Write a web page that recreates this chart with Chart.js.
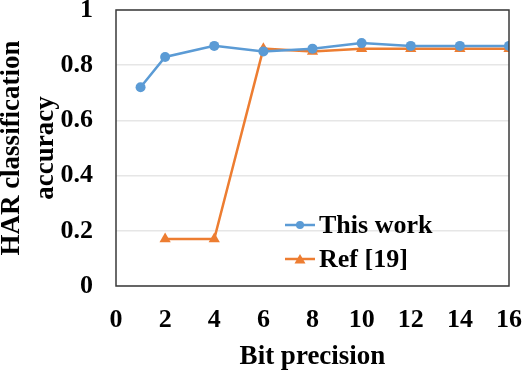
<!DOCTYPE html>
<html>
<head>
<meta charset="utf-8">
<script src="https://cdn.jsdelivr.net/npm/chart.js@4.4.1/dist/chart.umd.min.js"></script>
<style>
    html, body { margin: 0; padding: 0; background: #fff; }
    #wrap { width: 530px; height: 370px; }
</style>
</head>
<body>
<div id="wrap"><canvas id="accChart" width="530" height="370"></canvas></div>
<script>
// values
const thisWorkBits = [1, 2, 4, 6, 8, 10, 12, 14, 16];
const thisWorkAcc = [0.72, 0.83, 0.87, 0.85, 0.86, 0.88, 0.87, 0.87, 0.87];
const refBits = [2, 4, 6, 8, 10, 12, 14, 16];
const refAcc = [0.17, 0.17, 0.86, 0.85, 0.86, 0.86, 0.86, 0.86];
const seriesNames = ['This work', 'Ref [19]'];

const blue = '#5B9BD5';
const orange = '#ED7D31';
const fontFamily = '"Liberation Serif", "Times New Roman", serif';

const toPoints = (xs, ys) => xs.map((x, i) => ({ x: x, y: ys[i] }));

// keep the plot area where the layout padding puts it
function fixScale(scale, key, size) {
    scale[key] = size;
    scale.paddingTop = 0;
    scale.paddingBottom = 0;
    scale.paddingLeft = 0;
    scale.paddingRight = 0;
}

// frame around the plot area
const frameBox = {
    id: 'frameBox',
    afterDatasetsDraw(chart) {
        const { ctx, chartArea: a } = chart;
        ctx.save();
        ctx.strokeStyle = '#3a3a3a';
        ctx.lineWidth = 1.5;
        ctx.strokeRect(a.left, a.top, a.right - a.left, a.bottom - a.top);
        ctx.restore();
    }
};

// legend drawn inside the plot, lower right
const innerLegend = {
    id: 'innerLegend',
    afterDraw(chart) {
        const { ctx } = chart;
        ctx.save();
        ctx.font = 'bold 26px ' + fontFamily;
        ctx.textBaseline = 'middle';
        chart.data.datasets.forEach((ds, i) => {
            const y = 225 + i * 34;
            ctx.strokeStyle = ds.borderColor;
            ctx.lineWidth = 2.5;
            ctx.beginPath();
            ctx.moveTo(285, y);
            ctx.lineTo(315, y);
            ctx.stroke();
            ctx.fillStyle = ds.borderColor;
            ctx.beginPath();
            if (ds.pointStyle === 'triangle') {
                ctx.moveTo(300, y - 5);
                ctx.lineTo(305.5, y + 4.5);
                ctx.lineTo(294.5, y + 4.5);
                ctx.closePath();
            } else {
                ctx.arc(300, y, 4, 0, Math.PI * 2);
            }
            ctx.fill();
            ctx.fillStyle = '#000';
            ctx.fillText(ds.label, 319, y + 1);
        });
        ctx.restore();
    }
};

new Chart(document.getElementById('accChart').getContext('2d'), {
    type: 'line',
    data: {
        datasets: [
            {
                label: seriesNames[0],
                data: toPoints(thisWorkBits, thisWorkAcc),
                borderColor: blue,
                backgroundColor: blue,
                borderWidth: 2.5,
                pointStyle: 'circle',
                pointRadius: 5,
                pointBorderWidth: 0,
                tension: 0
            },
            {
                label: seriesNames[1],
                data: toPoints(refBits, refAcc),
                borderColor: orange,
                backgroundColor: orange,
                borderWidth: 2.5,
                pointStyle: 'triangle',
                pointRadius: 6.5,
                pointBorderWidth: 0,
                tension: 0
            }
        ]
    },
    options: {
        responsive: false,
        animation: false,
        devicePixelRatio: 1,
        layout: { padding: { left: 0, right: 21, top: 10, bottom: 0 } },
        plugins: {
            legend: { display: false },
            tooltip: { enabled: false }
        },
        scales: {
            x: {
                type: 'linear',
                min: 0,
                max: 16,
                border: { display: false },
                grid: { display: false, drawTicks: false },
                ticks: {
                    stepSize: 2,
                    padding: 19,
                    color: '#000',
                    font: { family: fontFamily, size: 26, weight: 'bold' }
                },
                title: {
                    display: true,
                    text: 'Bit precision',
                    color: '#000',
                    padding: { top: 0, bottom: -3 },
                    font: { family: fontFamily, size: 27, weight: 'bold' }
                },
                afterFit(scale) { fixScale(scale, 'height', 84); }
            },
            y: {
                min: 0,
                max: 1,
                border: { display: false },
                grid: { color: '#e6e6e6', lineWidth: 1.5, drawTicks: false },
                ticks: {
                    stepSize: 0.2,
                    padding: 23,
                    color: '#000',
                    font: { family: fontFamily, size: 26, weight: 'bold' },
                    callback: v => Math.round(v * 10) / 10
                },
                title: {
                    display: true,
                    text: ['HAR classification', 'accuracy'],
                    color: '#000',
                    padding: { top: -5, bottom: 0 },
                    font: { family: fontFamily, size: 27, weight: 'bold', lineHeight: 1.25 }
                },
                afterFit(scale) { fixScale(scale, 'width', 116); }
            }
        }
    },
    plugins: [frameBox, innerLegend]
});
</script>
</body>
</html>
